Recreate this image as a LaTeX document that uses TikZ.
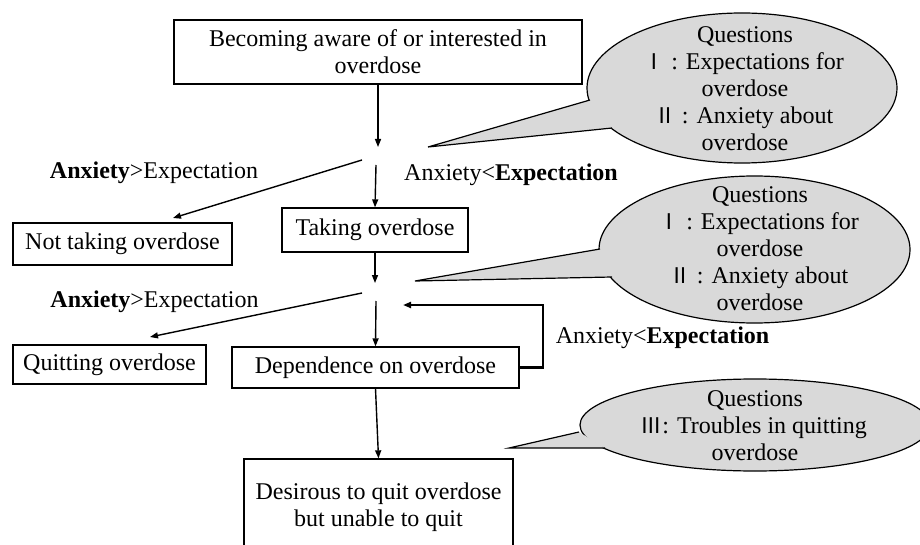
\documentclass[tikz,border=0pt]{standalone}
\usepackage{fontspec}
\setmainfont{Liberation Serif}
\newfontfamily\cjkfont[Scale=0.9]{Noto Sans CJK JP}
\usetikzlibrary{arrows.meta}
\definecolor{bubgray}{RGB}{217,217,217}
\newcommand\rnum[1]{\kern-0.1em{\cjkfont #1}}
\begin{document}
\begin{tikzpicture}[x=1pt,y=-1pt,
  every node/.style={font=\fontsize{24}{27}\selectfont, inner sep=0pt},
  box/.style={draw, line width=1.3pt, align=center},
  arr/.style={line width=1.4pt, -{Triangle[length=8pt,width=6pt]}},
  bubble/.style={fill=bubgray, draw, line width=1.2pt},
  bubtxt/.style={align=center}
]
\useasboundingbox (0,0) rectangle (920,545);

% boxes
\node[box, minimum width=408pt, minimum height=64pt] (top) at (378,52) {Becoming aware of or interested in\\overdose};
\node[box, minimum width=219pt, minimum height=42pt] (nottake) at (122.5,244) {Not taking overdose};
\node[box, minimum width=186pt, minimum height=44pt] (take) at (375,230) {Taking overdose};
\node[box, minimum width=193pt, minimum height=39pt] (quit) at (109.5,364.5) {Quitting overdose};
\node[box, minimum width=287pt, minimum height=41pt] (dep) at (375.5,367.5) {Dependence on overdose};
\node[box, minimum width=269pt, minimum height=96pt] (desire) at (378.5,507) {Desirous to quit overdose\\but unable to quit};

% labels
\node (l1) at (154,173) {\textbf{Anxiety}>Expectation};
\node (l2) at (511,175) {Anxiety<\textbf{Expectation}};
\node (l3) at (154.5,302) {\textbf{Anxiety}>Expectation};
\node (l4) at (662.5,338) {Anxiety<\textbf{Expectation}};

% decision points
\coordinate (d1) at (378,147);
\coordinate (d1s) at (376,165);
\coordinate (d1l) at (362,160);
\coordinate (ntin) at (173,218);
\coordinate (d2) at (375,283);
\coordinate (d2s) at (376,301);
\coordinate (d2l) at (362,293);
\coordinate (qin) at (150,337);
\coordinate (fbtip) at (403,305);

\draw[arr] (top.south) -- (d1);
\draw[arr] (d1s) -- (take.north);
\draw[arr] (d1l) -- (ntin);
\draw[arr] (take.south) -- (d2);
\draw[arr] (d2s) -- (dep.north);
\draw[arr] (d2l) -- (qin);
\draw[line width=2.2pt, -{Triangle[length=8pt,width=6pt]}] (dep.east) -- ++(23,0) |- (fbtip);
\draw[arr] (dep.south) -- (desire.north);

% bubble 1
\filldraw[bubble] (742,88) ellipse [x radius=155pt, y radius=75pt];
\fill[bubgray] (590,100) -- (428,147) -- (612,128) -- cycle;
\draw[line width=1.2pt, line join=miter] (590,100) -- (428,147) -- (612,128);
\node[bubtxt] (q1) at (745,89) {Questions\\\rnum{Ⅰ} : Expectations for\\overdose\\\rnum{Ⅱ} : Anxiety about\\overdose};

% bubble 2
\filldraw[bubble] (754.5,249.5) ellipse [x radius=155.5pt, y radius=73.5pt];
\fill[bubgray] (600,249) -- (415,281) -- (612,277) -- cycle;
\draw[line width=1.2pt, line join=miter] (600,249) -- (415,281) -- (612,277);
\node[bubtxt] (q2) at (760,249) {Questions\\\rnum{Ⅰ} : Expectations for\\overdose\\\rnum{Ⅱ} : Anxiety about\\overdose};

% bubble 3
\filldraw[bubble] (755,425) ellipse [x radius=175pt, y radius=46pt];
\fill[bubgray] (579,432) -- (509,448) -- (605,448) -- cycle;
\draw[line width=1.2pt, line join=miter] (579,432) -- (509,448) -- (605,448);
\node[bubtxt] (q3) at (755,426) {Questions\\\rnum{Ⅲ}: Troubles in quitting\\overdose};
\end{tikzpicture}
\end{document}
